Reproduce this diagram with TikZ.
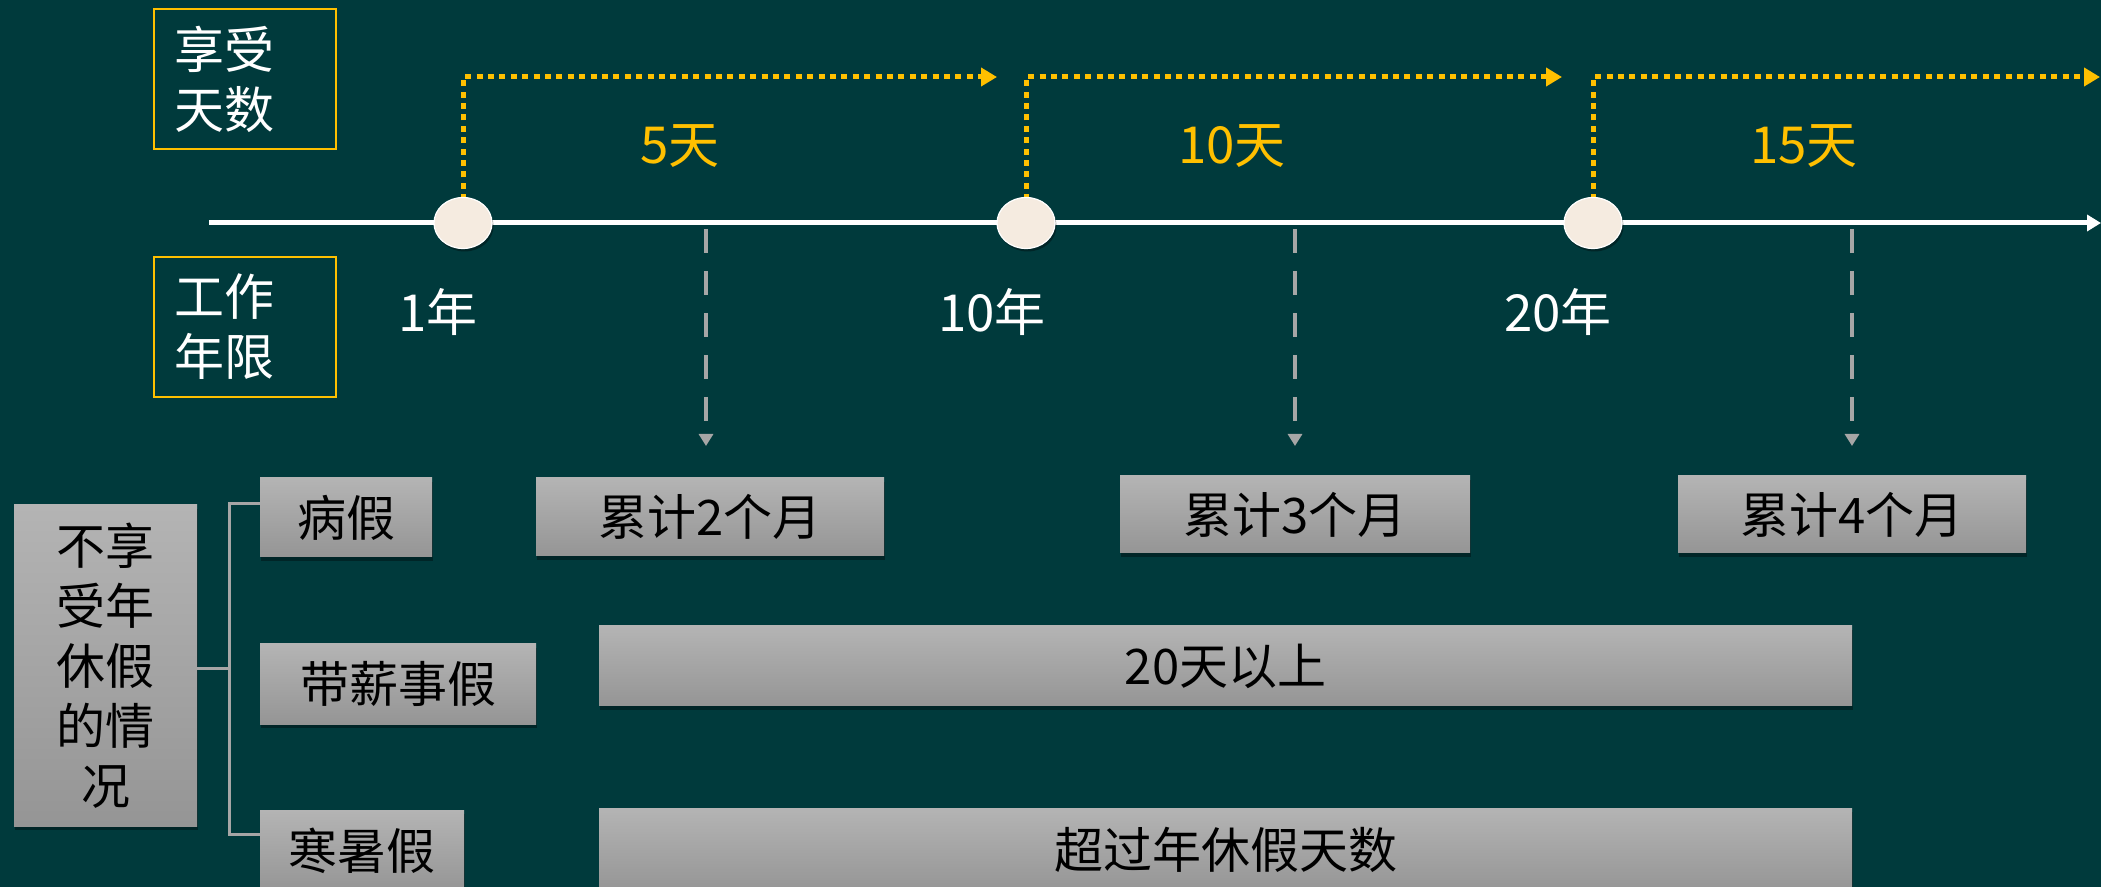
\documentclass[tikz,border=0pt]{standalone}
\usepackage{fontspec}
\setmainfont{Noto Sans CJK SC}
\usetikzlibrary{arrows.meta,shapes.geometric,shadows}
\definecolor{bg}{HTML}{003A3C}
\definecolor{gold}{HTML}{FFC000}
\definecolor{cream}{HTML}{F5EBE0}
\definecolor{lgray}{HTML}{A6A6A6}
\definecolor{gtop}{HTML}{B4B4B4}
\definecolor{gbot}{HTML}{959595}
\tikzset{
  labelbox/.style={draw=gold, line width=1pt, text=white, font=\fontsize{25}{30}\selectfont,
    text width=71pt, align=left, inner xsep=10pt, minimum height=70pt},
  graybox/.style={top color=gtop, bottom color=gbot, text=black, font=\fontsize{24.5}{30}\selectfont,
    inner sep=0pt, drop shadow={shadow xshift=0.6pt, shadow yshift=-1.8pt, opacity=0.35, fill=black}},
  dotnode/.style={ellipse, fill=cream, draw=white, line width=0.6pt, minimum width=29pt,
    minimum height=25.5pt, inner sep=0pt, drop shadow={shadow xshift=0.8pt, shadow yshift=-1.5pt, opacity=0.35, fill=black}},
  axisline/.style={draw=white, line width=2.5pt, -{Triangle[length=7pt,width=8pt]}},
  goldline/.style={draw=gold, line width=2.5pt, dash pattern=on 3pt off 2.7pt,
    -{Triangle[length=8pt,width=9pt]}},
  grayline/.style={draw=lgray, line width=2pt, dash pattern=on 12pt off 9pt,
    -{Triangle[length=6pt,width=7pt]}},
  daylabel/.style={text=gold, font=\fontsize{25.5}{30}\selectfont},
  yearlabel/.style={text=white, font=\fontsize{25.5}{30}\selectfont},
  bracket/.style={draw=lgray, line width=1.5pt}
}
\begin{document}
\begin{tikzpicture}[x=0.5pt,y=-0.5pt]
\useasboundingbox (0,0) rectangle (2101,887);
\clip (0,0) rectangle (2101,887);
\fill[bg] (0,0) rectangle (2101,887);

% header boxes
\node[labelbox] (hd) at (245,79) {享受\\天数};
\node[labelbox] (gz) at (245,327) {工作\\年限};

% axis
\coordinate (ax0) at (209,223);
\coordinate (ax1) at (2101,223);
\draw[axisline] (ax0) -- (ax1);

% gold dotted connectors
\coordinate (t1) at (463,77);
\coordinate (e1) at (997,77);
\coordinate (t2) at (1026,77);
\coordinate (e2) at (1562,77);
\coordinate (t3) at (1593,77);
\coordinate (e3) at (2100,77);
\coordinate (c1p) at (463,223);
\coordinate (c2p) at (1026,223);
\coordinate (c3p) at (1593,223);
\draw[goldline] (c1p) -- (t1) -- (e1);
\draw[goldline] (c2p) -- (t2) -- (e2);
\draw[goldline] (c3p) -- (t3) -- (e3);

% milestone dots
\node[dotnode] (c1) at (c1p) {};
\node[dotnode] (c2) at (c2p) {};
\node[dotnode] (c3) at (c3p) {};

% day labels
\node[daylabel] (d1) at (680,146) {5天};
\node[daylabel] (d2) at (1232,146) {10天};
\node[daylabel] (d3) at (1804,146) {15天};

% year labels
\node[yearlabel] (y1) at (438,312) {1年};
\node[yearlabel] (y2) at (992,312) {10年};
\node[yearlabel] (y3) at (1558,312) {20年};

% gray dashed pointers
\coordinate (g1a) at (706,229);
\coordinate (g1b) at (706,446);
\coordinate (g2a) at (1295,229);
\coordinate (g2b) at (1295,446);
\coordinate (g3a) at (1852,229);
\coordinate (g3b) at (1852,446);
\draw[grayline] (g1a) -- (g1b);
\draw[grayline] (g2a) -- (g2b);
\draw[grayline] (g3a) -- (g3b);

% gray boxes
\node[graybox, minimum width=91.5pt, minimum height=160.5pt, align=center] (bx) at (105.5,665.5) {不享\\受年\\休假\\的情\\况};
\node[graybox, minimum width=86pt, minimum height=39.5pt] (bj) at (346,517.5) {病假};
\node[graybox, minimum width=138pt, minimum height=40pt] (dx) at (398,684) {带薪事假};
\node[graybox, minimum width=102pt, minimum height=41pt] (hs) at (362,851) {寒暑假};
\node[graybox, minimum width=174pt, minimum height=39pt] (lj2) at (710,517) {累计2个月};
\node[graybox, minimum width=175pt, minimum height=38.5pt] (lj3) at (1295,514.5) {累计3个月};
\node[graybox, minimum width=174pt, minimum height=38.5pt] (lj4) at (1852,514.5) {累计4个月};
\node[graybox, minimum width=626.5pt, minimum height=40pt] (tq) at (1225.5,666) {20天以上};
\node[graybox, minimum width=626.5pt, minimum height=42pt] (cg) at (1225.5,850) {超过年休假天数};

% bracket
\coordinate (bm) at (229,669);
\coordinate (bt) at (229,504);
\coordinate (bb) at (229,834);
\draw[bracket] (bx.east |- bm) -- (bm);
\draw[bracket] (bj.west |- bt) -- (bt) -- (bb) -- (hs.west |- bb);
\end{tikzpicture}
\end{document}
